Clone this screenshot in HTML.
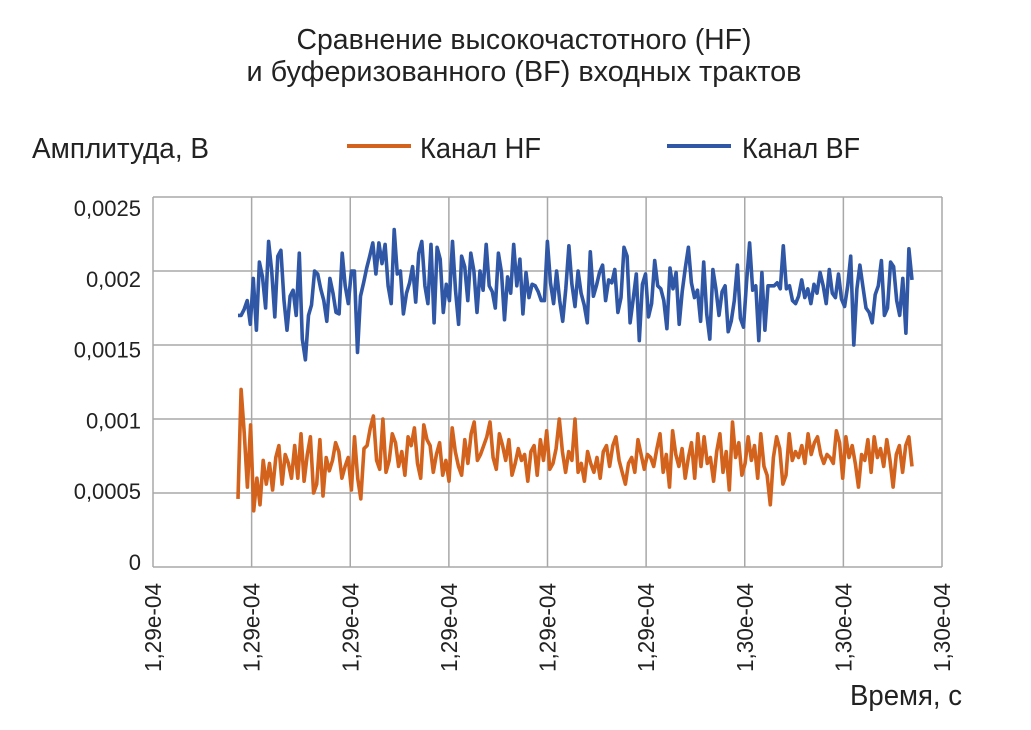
<!DOCTYPE html>
<html><head><meta charset="utf-8"><style>
body{margin:0;background:#fff}
svg{display:block;font-family:"Liberation Sans",sans-serif}
</style></head><body>
<svg id="c" width="1031" height="730">
<text x="524" y="49" text-anchor="middle" font-size="29" fill="#222" textLength="455" lengthAdjust="spacingAndGlyphs">Сравнение высокочастотного (HF)</text>
<text x="524" y="81" text-anchor="middle" font-size="29" fill="#222" textLength="555" lengthAdjust="spacingAndGlyphs">и буферизованного (BF) входных трактов</text>
<text x="32" y="158" font-size="29" fill="#222" textLength="177" lengthAdjust="spacingAndGlyphs">Амплитуда, В</text>
<g>
<line x1="347" y1="146" x2="411" y2="146" stroke="#d2621c" stroke-width="4"/>
<text x="420" y="158" font-size="29" fill="#222" textLength="121" lengthAdjust="spacingAndGlyphs">Канал HF</text></g>
<g>
<line x1="667" y1="146" x2="731" y2="146" stroke="#2f57a5" stroke-width="4"/>
<text x="742" y="158" font-size="29" fill="#222" textLength="118" lengthAdjust="spacingAndGlyphs">Канал BF</text></g>
<text x="962" y="705" text-anchor="end" font-size="29" fill="#222" textLength="112" lengthAdjust="spacingAndGlyphs">Время, с</text>
<g id="grid"></g><g id="series"></g><g id="labels"></g>
</svg>
<script>
const yTicks=[0,0.0005,0.001,0.0015,0.002,0.0025];
const yTickLabels=["0","0,0005","0,001","0,0015","0,002","0,0025"];
const xTickLabels=["1,29e-04","1,29e-04","1,29e-04","1,29e-04","1,29e-04","1,29e-04","1,30e-04","1,30e-04","1,30e-04"];
const bfValues=[1700,1700,1740,1800,1640,1950,1600,2060,1960,1750,2200,2000,1690,2100,2140,1800,1600,1830,1870,1700,2120,1540,1400,1700,1770,2000,1980,1880,1800,1660,1950,1850,1720,1710,2120,1900,1780,2000,2000,1450,1830,1920,2020,2100,2190,1980,2190,2050,2180,1900,1780,2280,1980,2000,1710,1850,1920,2030,1790,2120,2200,1900,1780,2180,1650,2160,2080,1720,1910,1800,2200,1870,1640,2100,2030,1800,2120,2000,1720,2000,1870,2180,1900,1860,1750,2120,1990,1670,1960,1850,2180,1900,2080,1710,1990,1820,1910,1900,1860,1800,1800,2200,1920,1780,2000,1800,1660,1880,2170,1910,1760,2000,1850,1770,1650,2130,1830,1900,1990,2040,1800,1940,1920,2010,1720,1820,2160,2100,1650,1810,1980,1530,1910,1980,1690,1780,2070,1900,1880,1800,1610,2020,1880,1990,1640,1860,2020,2160,1920,1820,1870,1660,2060,1710,1540,2010,1880,1700,1860,1900,1590,1660,1800,2040,1680,1620,1930,2190,1870,1900,1530,1990,1600,1900,1900,1900,1920,1880,2170,1880,1900,1800,1780,1830,1940,1820,1880,1780,1910,1850,1990,1900,1780,2010,1850,1820,1980,1810,1760,1900,2100,1500,1880,2040,1890,1750,1720,1650,1840,1900,2070,1700,1750,2060,2030,1800,1700,1950,1580,2150,1940];
const hfValues=[460,1200,900,540,960,380,600,420,720,560,700,520,740,820,560,760,700,600,820,600,900,580,760,880,500,560,860,480,740,650,720,840,780,600,680,740,520,880,600,460,800,820,940,1020,720,660,1000,640,720,900,840,680,780,620,880,820,940,700,600,960,860,820,640,760,840,620,720,580,940,780,680,620,860,700,900,980,720,760,820,880,980,740,660,900,820,720,860,620,700,800,720,760,580,780,820,620,860,720,920,660,700,800,1000,780,640,780,720,1000,640,700,580,780,700,640,740,600,780,820,680,820,880,720,640,560,700,740,640,860,760,660,760,740,680,800,900,640,760,540,920,760,680,800,600,740,840,600,900,680,880,700,740,580,780,900,640,780,520,980,740,840,620,700,880,720,820,600,900,680,620,420,740,880,800,560,620,900,720,780,740,820,700,900,760,840,880,760,700,760,740,700,920,840,600,880,740,820,700,540,760,720,860,640,880,740,800,680,860,720,540,760,820,640,820,880,680];
const NS="http://www.w3.org/2000/svg";
const L=153,R=942,T=197,B=567;
const y=v=>B-(v/0.0025)*(B-T);
const yl=v=>562-(v/0.0025)*(562-208);
const xt=i=>L+i*(R-L)/(xTickLabels.length-1);
const xs=(i,n)=>238+i*(912-238)/(n-1);
const grid=document.getElementById('grid'),lab=document.getElementById('labels'),ser=document.getElementById('series');
function mk(t,a,p){const e=document.createElementNS(NS,t);for(const k in a)e.setAttribute(k,a[k]);p.appendChild(e);return e;}
yTicks.forEach((v,i)=>{
 const g=mk('line',{x1:L,x2:R,y1:y(v),y2:y(v),stroke:'#a8a8a8','stroke-width':1.5},grid);
 
 
 const t=mk('text',{x:141,y:yl(v)+8,'text-anchor':'end','font-size':22,fill:'#222'},lab);
 t.textContent=yTickLabels[i];
 
 
});
xTickLabels.forEach((s,i)=>{
 const g=mk('line',{x1:xt(i),x2:xt(i),y1:T,y2:B,stroke:'#a8a8a8','stroke-width':1.5},grid);
 
 
 const t=mk('text',{x:0,y:0,'text-anchor':'end','font-size':23,fill:'#222',transform:`translate(${xt(i)+8},583) rotate(-90)`,textLength:89,lengthAdjust:'spacingAndGlyphs'},lab);
 t.textContent=s;
 
 
});
function line(vals,col,name){
 const d=vals.map((v,i)=>(i?'L':'M')+xs(i,vals.length).toFixed(1)+' '+y(v*1e-6).toFixed(1)).join('');
 const p=mk('path',{d:d,fill:'none',stroke:col,'stroke-width':3.6,'stroke-linejoin':'round'},ser);
 
 
}
line(hfValues,'#d2621c','series-hf-line');
line(bfValues,'#2f57a5','series-bf-line');
</script>
</body></html>
